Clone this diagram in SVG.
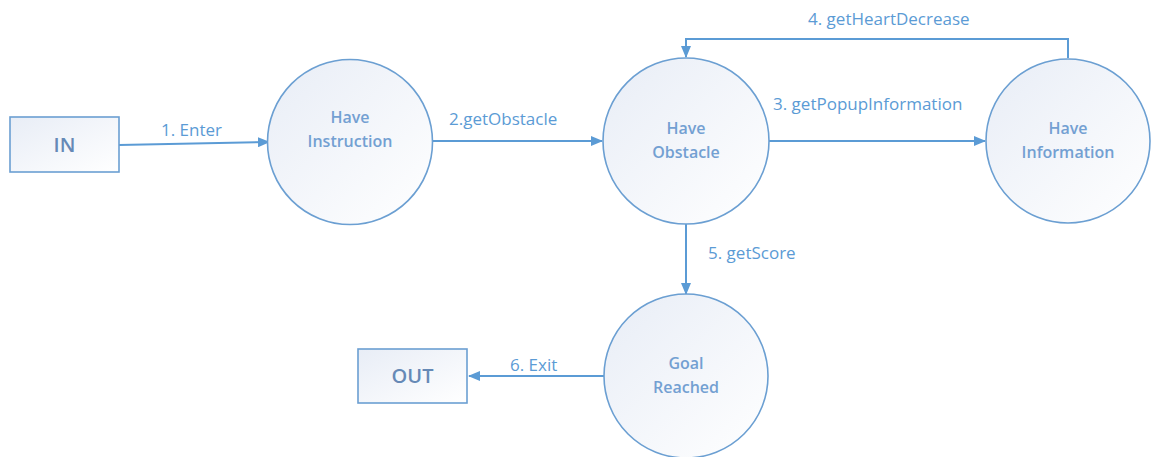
<svg xmlns="http://www.w3.org/2000/svg" width="1155" height="457" viewBox="0 0 1155 457">
  <style>
    .shape { fill: url(#nodeFill); stroke: #6b9fd2; stroke-width: 1.6; }
    .node-text { font-family: "Open Sans", "Noto Sans", sans-serif; font-size: 16px; font-weight: 600; fill: #73a0d2; text-anchor: middle; }
    .box-text { font-family: "Open Sans", "Noto Sans", sans-serif; font-size: 20px; font-weight: 600; fill: #6689b6; text-anchor: middle; }
    .edge { fill: none; stroke: #5b9bd5; stroke-width: 2; }
    .edge-label { font-family: "Open Sans", "Noto Sans", sans-serif; font-size: 17px; fill: #5b9bd5; }
  </style>
  <defs>
    <linearGradient id="nodeFill" x1="0" y1="0" x2="1" y2="1">
      <stop offset="0" stop-color="#e8edf6"/>
      <stop offset="1" stop-color="#ffffff"/>
    </linearGradient>
    <marker id="arrow" viewBox="0 0 12 10" refX="11" refY="5" markerWidth="12" markerHeight="10" markerUnits="userSpaceOnUse" orient="auto">
      <path d="M0,0 L12,5 L0,10 Z" fill="#5b9bd5"/>
    </marker>
  </defs>
  <rect width="1155" height="457" fill="#ffffff"/>

  <!-- connectors -->
  <g id="connectors">
    <path class="edge" d="M119,145 L269,142" marker-end="url(#arrow)"/>
    <text class="edge-label" x="161" y="136">1. Enter</text>
    <path class="edge" d="M432,141 L602,141" marker-end="url(#arrow)"/>
    <text class="edge-label" x="449" y="125">2.getObstacle</text>
    <path class="edge" d="M769,141 L985,141" marker-end="url(#arrow)"/>
    <text class="edge-label" x="773" y="110">3. getPopupInformation</text>
    <path class="edge" d="M1068,58 L1068,39 L686,39 L686,57" marker-end="url(#arrow)"/>
    <text class="edge-label" x="808" y="25">4. getHeartDecrease</text>
    <path class="edge" d="M686,224 L686,294" marker-end="url(#arrow)"/>
    <text class="edge-label" x="708" y="259">5. getScore</text>
    <path class="edge" d="M604,376 L469,376" marker-end="url(#arrow)"/>
    <text class="edge-label" x="510" y="371">6. Exit</text>
  </g>

  <!-- nodes -->
  <g id="node-in">
    <rect class="shape" x="10" y="117" width="109" height="55"/>
    <text class="box-text" x="64.5" y="151.5">IN</text>
  </g>
  <g id="node-have-instruction">
    <circle class="shape" cx="350" cy="142" r="82.5"/>
    <text class="node-text" x="350" y="123">Have</text>
    <text class="node-text" x="350" y="147">Instruction</text>
  </g>
  <g id="node-have-obstacle">
    <circle class="shape" cx="686" cy="141" r="83"/>
    <text class="node-text" x="686" y="134">Have</text>
    <text class="node-text" x="686" y="158">Obstacle</text>
  </g>
  <g id="node-have-information">
    <circle class="shape" cx="1068" cy="141" r="82"/>
    <text class="node-text" x="1068" y="134">Have</text>
    <text class="node-text" x="1068" y="158">Information</text>
  </g>
  <g id="node-goal-reached">
    <circle class="shape" cx="686" cy="376" r="82"/>
    <text class="node-text" x="686" y="369">Goal</text>
    <text class="node-text" x="686" y="393">Reached</text>
  </g>
  <g id="node-out">
    <rect class="shape" x="358" y="349" width="109" height="54"/>
    <text class="box-text" x="412.5" y="383">OUT</text>
  </g>
</svg>
